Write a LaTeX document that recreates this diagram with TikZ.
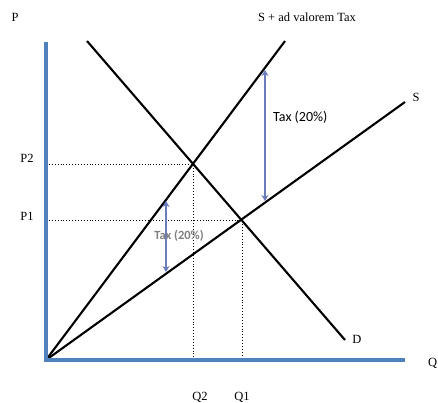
\documentclass[tikz,border=0pt]{standalone}
\usepackage{fontspec}
\setmainfont{Liberation Serif}
\newfontfamily\taxfont{Carlito}
\usetikzlibrary{arrows.meta}
\definecolor{axisblue}{HTML}{4F81BD}
\definecolor{arrowblue}{HTML}{6A7CBE}
\begin{document}
\begin{tikzpicture}[x=1pt,y=-1pt,
  axisline/.style={axisblue,line width=3.4pt},
  curve/.style={black,line width=2.1pt},
  guide/.style={black,dotted,line width=0.9pt},
  taxarrow/.style={arrowblue,line width=2.6pt,{Stealth[length=6pt,width=7pt]}-{Stealth[length=6pt,width=7pt]}},
  lab/.style={font=\fontsize{12.5}{14}\selectfont,inner sep=0pt},
  taxlab/.style={font=\taxfont\fontsize{14}{16}\selectfont,inner sep=0pt}]
\useasboundingbox (0,0) rectangle (438,403);
\fill[white] (0,0) rectangle (438,403);
% key points
\coordinate (O) at (46,360);
\coordinate (ytop) at (46,42);
\coordinate (xend) at (405,360);
\coordinate (Dtop) at (87,41);
\coordinate (Dbot) at (345,340);
\coordinate (Ttop) at (285,41);
\coordinate (Stop) at (405,102);
\coordinate (E2) at (193,164);
\coordinate (E1) at (242,220);
\coordinate (P2a) at (46,164);
\coordinate (P1a) at (46,220);
\coordinate (Q2a) at (193,360);
\coordinate (Q1a) at (242,360);
\coordinate (A1t) at (265,70);
\coordinate (A1b) at (265,201);
\coordinate (A2t) at (166,201);
\coordinate (A2b) at (166,272);
% guides
\draw[guide] (P2a) -- (E2) -- (Q2a);
\draw[guide] (P1a) -- (E1) -- (Q1a);
% curves
\draw[curve] (Dtop) -- (Dbot);
\draw[curve] (O) -- (Ttop);
\draw[curve] (O) -- (Stop);
% axes
\draw[axisline] (ytop) -- (O) -- (xend);
% tax arrows
\draw[taxarrow] (A1t) -- (A1b);
\draw[taxarrow] (A2t) -- (A2b);
% labels
\node[lab] (Plab) at (15,17) {P};
\node[lab,anchor=west] (Qlab) at (428,363) {Q};
\node[lab] (Tlab) at (307,17) {S + ad valorem Tax};
\node[lab] (Slab) at (416,97) {S};
\node[lab] (Dlab) at (357,339) {D};
\node[lab] (P2lab) at (27,158) {P2};
\node[lab] (P1lab) at (27,216) {P1};
\node[lab] (Q2lab) at (200,397) {Q2};
\node[lab] (Q1lab) at (242,397) {Q1};
\node[taxlab,anchor=west] (tax1) at (273,117) {Tax (20\%)};
\node[taxlab,text=gray,font=\taxfont\bfseries\fontsize{12.5}{14}\selectfont] (tax2) at (179,236) {Tax (20\%)};
\end{tikzpicture}
\end{document}
